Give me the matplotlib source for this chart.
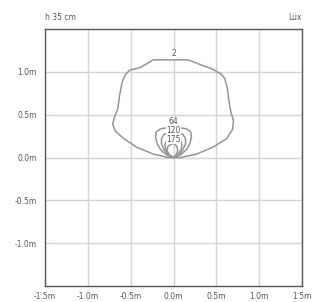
import numpy as np
import matplotlib.pyplot as plt

ticks = [-1.5, -1.0, -0.5, 0.0, 0.5, 1.0, 1.5]
tick_labels = ['-1.5m', '-1.0m', '-0.5m', '0.0m', '0.5m', '1.0m', '1.5m']

# isolux contours (x, y in m)
lux2_x = [0.0, -0.06, -0.235, -0.43, -0.58, -0.68, -0.71, -0.69, -0.65, -0.63, -0.60, -0.56,
          -0.51, -0.39, -0.27, -0.24, -0.02, 0.17, 0.25, 0.35, 0.46, 0.56, 0.60, 0.63, 0.65,
          0.67, 0.70, 0.69, 0.62, 0.46, 0.27, 0.08, 0.0]
lux2_y = [0.0, 0.0, 0.04, 0.12, 0.22, 0.31, 0.39, 0.47, 0.57, 0.72, 0.88, 0.97,
          1.02, 1.05, 1.12, 1.14, 1.14, 1.14, 1.11, 1.07, 1.03, 0.97, 0.92, 0.80, 0.64,
          0.53, 0.43, 0.33, 0.22, 0.12, 0.04, 0.0, 0.0]

lux64_x = [0.0, -0.08, -0.15, -0.19, -0.21, -0.20, -0.15, -0.06, 0.0, 0.06, 0.15, 0.20, 0.21,
           0.19, 0.15, 0.08, 0.0]
lux64_y = [0.0, 0.03, 0.09, 0.16, 0.24, 0.30, 0.335, 0.35, 0.35, 0.35, 0.335, 0.30, 0.24,
           0.16, 0.09, 0.03, 0.0]

lux120_x = [0.0, -0.06, -0.11, -0.14, -0.14, -0.11, -0.05, 0.0, 0.05, 0.11, 0.14, 0.14, 0.11, 0.06, 0.0]
lux120_y = [0.0, 0.03, 0.09, 0.16, 0.22, 0.27, 0.295, 0.30, 0.295, 0.27, 0.22, 0.16, 0.09, 0.03, 0.0]

lux175_x = [0.0, -0.05, -0.09, -0.10, -0.08, -0.03, 0.0, 0.03, 0.08, 0.10, 0.09, 0.05, 0.0]
lux175_y = [0.0, 0.03, 0.09, 0.15, 0.20, 0.225, 0.23, 0.225, 0.20, 0.15, 0.09, 0.03, 0.0]

luxmax_x = [0.0, -0.05, -0.075, -0.065, -0.02, 0.01, 0.04, 0.05, 0.03, 0.0]
luxmax_y = [0.0, 0.03, 0.08, 0.13, 0.16, 0.16, 0.13, 0.08, 0.03, 0.0]

labels = ['2', '64', '120', '175']
label_y = [1.21, 0.42, 0.31, 0.215]

fig = plt.figure(figsize=(3.2, 3.02), dpi=100)
ax = fig.add_axes([45/320, 16/302, 257/320, 257/302])

line_c = '#949494'
for xs, ys in [(lux2_x, lux2_y), (lux64_x, lux64_y), (lux120_x, lux120_y),
               (lux175_x, lux175_y), (luxmax_x, luxmax_y)]:
    ax.plot(xs, ys, color=line_c, lw=1.1, zorder=3, solid_joinstyle='round')

for t, y in zip(labels, label_y):
    ax.text(0.0, y, t, fontsize=5.5, color='#555555', ha='center', va='center', zorder=4,
            bbox=dict(facecolor='white', edgecolor='none', pad=0.2))

ax.set_xlim(-1.5, 1.5)
ax.set_ylim(-1.5, 1.5)
ax.set_xticks(ticks)
ax.set_yticks(ticks[1:-1])
ax.set_xticklabels(tick_labels)
ax.set_yticklabels(tick_labels[1:-1])
ax.grid(True, color='#d4d4d4', lw=1.0)
ax.set_axisbelow(True)
ax.tick_params(direction='in', length=3, color='#cccccc', labelsize=5.5,
               labelcolor='#555555')
ax.tick_params(axis='x', pad=4.5)
ax.tick_params(axis='y', pad=6)
for s in ax.spines.values():
    s.set_color('#555555')
    s.set_linewidth(1.0)

fig.text(45/320, 1 - 18/302, 'h 35 cm', fontsize=5.5, color='#555555', ha='left', va='center')
fig.text(302/320, 1 - 18/302, 'Lux', fontsize=5.5, color='#555555', ha='right', va='center')

plt.savefig('out.png', dpi=100)
